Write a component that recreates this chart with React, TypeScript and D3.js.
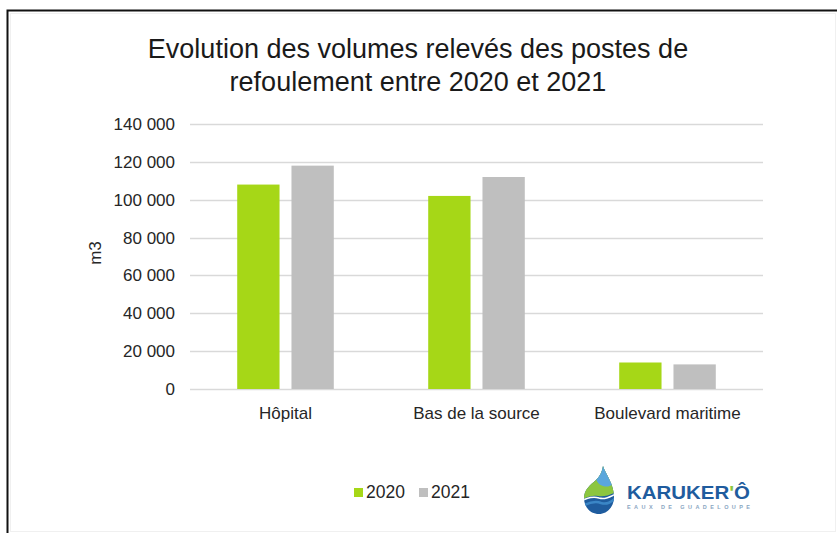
import { useEffect, useRef } from "react";
import * as d3 from "d3";

const categories = ["Hôpital", "Bas de la source", "Boulevard maritime"];
const seriesNames = ["2020", "2021"];
const values2020 = [108000, 102000, 14000];
const values2021 = [118000, 112000, 13000];
const yTicks = [0, 20000, 40000, 60000, 80000, 100000, 120000, 140000];

const seriesColor: Record<string, string> = {
  "2020": "#a6d717",
  "2021": "#bfbfbf"
};

const font = "'Liberation Sans', Arial, sans-serif";

export default function App() {
  const svgRef = useRef<SVGSVGElement | null>(null);

  useEffect(() => {
    const svg = d3.select(svgRef.current);
    svg.selectAll("*").remove();

    const width = 837;
    const height = 533;
    const margin = { top: 124, right: 74, bottom: 144, left: 190 };
    svg.attr("width", width).attr("height", height);

    svg.append("rect").attr("width", width).attr("height", height).attr("fill", "#fff");

    // outer frame (image crop border) + faint chart-area border
    svg
      .append("path")
      .attr("d", `M7.5,${height} V10.5 H${width}`)
      .attr("fill", "none")
      .attr("stroke", "#111")
      .attr("stroke-width", 2);
    svg
      .append("rect")
      .attr("x", 10.5)
      .attr("y", 13.5)
      .attr("width", width - 12)
      .attr("height", height - 15)
      .attr("fill", "none")
      .attr("stroke", "#f0f0f0");

    const x0 = d3
      .scaleBand()
      .domain(categories)
      .range([margin.left, width - margin.right])
      .paddingInner(0)
      .paddingOuter(0);
    const x1 = d3
      .scaleBand()
      .domain(seriesNames)
      .range([0, x0.bandwidth()])
      .paddingInner(0.22)
      .paddingOuter(0.87);
    const y = d3
      .scaleLinear()
      .domain([0, 140000])
      .range([height - margin.bottom, margin.top]);

    const fmt = (v: number) => d3.format(",")(v).replace(/,/g, " ");

    // title
    const title = svg
      .append("text")
      .attr("x", 418)
      .attr("text-anchor", "middle")
      .attr("font-family", font)
      .attr("font-size", 27)
      .attr("fill", "#1a1a1a");
    title.append("tspan").attr("x", 418).attr("y", 58).text("Evolution des volumes relevés des postes de");
    title.append("tspan").attr("x", 418).attr("y", 91).text("refoulement entre 2020 et 2021");

    // gridlines
    svg
      .append("g")
      .attr("stroke", "#d9d9d9")
      .attr("stroke-width", 1.3)
      .selectAll("line")
      .data(yTicks)
      .join("line")
      .attr("x1", margin.left)
      .attr("x2", width - margin.right)
      .attr("y1", (d) => Math.round(y(d)) + 0.5)
      .attr("y2", (d) => Math.round(y(d)) + 0.5);

    // y tick labels
    svg
      .append("g")
      .selectAll("text")
      .data(yTicks)
      .join("text")
      .attr("x", 175)
      .attr("y", (d) => y(d))
      .attr("dy", "0.35em")
      .attr("text-anchor", "end")
      .attr("font-family", font)
      .attr("font-size", 17)
      .attr("fill", "#262626")
      .text((d) => fmt(d));

    svg
      .append("text")
      .attr("transform", "translate(101,253) rotate(-90)")
      .attr("text-anchor", "middle")
      .attr("font-family", font)
      .attr("font-size", 17)
      .attr("fill", "#262626")
      .text("m3");

    // bars
    const rows = categories.map((c, i) => ({
      category: c,
      values: [
        { key: "2020", value: values2020[i] },
        { key: "2021", value: values2021[i] }
      ]
    }));

    svg
      .append("g")
      .selectAll("g")
      .data(rows)
      .join("g")
      .attr("transform", (d) => `translate(${x0(d.category)},0)`)
      .selectAll("rect")
      .data((d) => d.values)
      .join("rect")
      .attr("x", (d) => x1(d.key) as number)
      .attr("y", (d) => y(d.value))
      .attr("width", x1.bandwidth())
      .attr("height", (d) => y(0) - y(d.value))
      .attr("fill", (d) => seriesColor[d.key]);

    // category labels
    svg
      .append("g")
      .selectAll("text")
      .data(categories)
      .join("text")
      .attr("x", (d) => (x0(d) as number) + x0.bandwidth() / 2)
      .attr("y", 419)
      .attr("text-anchor", "middle")
      .attr("font-family", font)
      .attr("font-size", 17)
      .attr("fill", "#262626")
      .text((d) => d);

    // legend
    const legend = svg
      .append("g")
      .selectAll("g")
      .data(seriesNames)
      .join("g")
      .attr("transform", (_, i) => `translate(${354 + i * 65},0)`);
    legend
      .append("rect")
      .attr("x", 0)
      .attr("y", 488)
      .attr("width", 9)
      .attr("height", 9)
      .attr("fill", (d) => seriesColor[d]);
    legend
      .append("text")
      .attr("x", 12)
      .attr("y", 498)
      .attr("font-family", font)
      .attr("font-size", 17.5)
      .attr("fill", "#262626")
      .text((d) => d);

    // logo
    const logo = svg.append("g");
    const dropPath =
      "M603,466 C606,475 614,484 614,497 C614,507 607,514 599,514 C590,514 584,507 584,498 C584,490 590,485 596,480 C600,476 602,472 603,466 Z";
    const defs = svg.append("defs");
    defs.append("clipPath").attr("id", "dropClip").append("path").attr("d", dropPath);
    const dg = logo.append("g").attr("clip-path", "url(#dropClip)");
    dg.append("rect").attr("x", 580).attr("y", 460).attr("width", 40).attr("height", 60).attr("fill", "#1f5c9e");
    dg.append("path").attr("d", "M580,460 H620 V490 C612,494 606,497 598,496 C592,495 588,497 580,500 Z").attr("fill", "#8cc63f");
    dg.append("path").attr("d", "M580,460 H620 V480 C614,484 609,488 603,486 C599,485 597,482 596,479 L580,480 Z").attr("fill", "#5aa6dc");
    dg.append("path")
      .attr("d", "M580,501 C588,498 593,496 599,498 C606,500 611,496 620,492")
      .attr("fill", "none")
      .attr("stroke", "#fff")
      .attr("stroke-width", 1.6);
    dg.append("path")
      .attr("d", "M584,505 C591,502 596,501 601,503 C607,505 611,502 616,498")
      .attr("fill", "none")
      .attr("stroke", "#3b86c6")
      .attr("stroke-width", 2.5);

    const brand = logo
      .append("text")
      .attr("x", 627)
      .attr("y", 499)
      .attr("font-family", font)
      .attr("font-weight", "bold")
      .attr("font-size", 19)
      .attr("textLength", 123)
      .attr("lengthAdjust", "spacingAndGlyphs")
      .attr("fill", "#1f5c9e");
    brand.append("tspan").text("KARUKER");
    brand.append("tspan").attr("fill", "#8cc63f").text("'");
    brand.append("tspan").text("Ô");
    logo
      .append("text")
      .attr("x", 627)
      .attr("y", 509)
      .attr("font-family", font)
      .attr("font-weight", "bold")
      .attr("font-size", 5.5)
      .attr("textLength", 123)
      .attr("lengthAdjust", "spacing")
      .attr("fill", "#8aa6c2")
      .text("EAUX DE GUADELOUPE");
  }, []);

  return <svg ref={svgRef} style={{ position: "fixed", left: 0, top: 0, display: "block" }} />;
}
